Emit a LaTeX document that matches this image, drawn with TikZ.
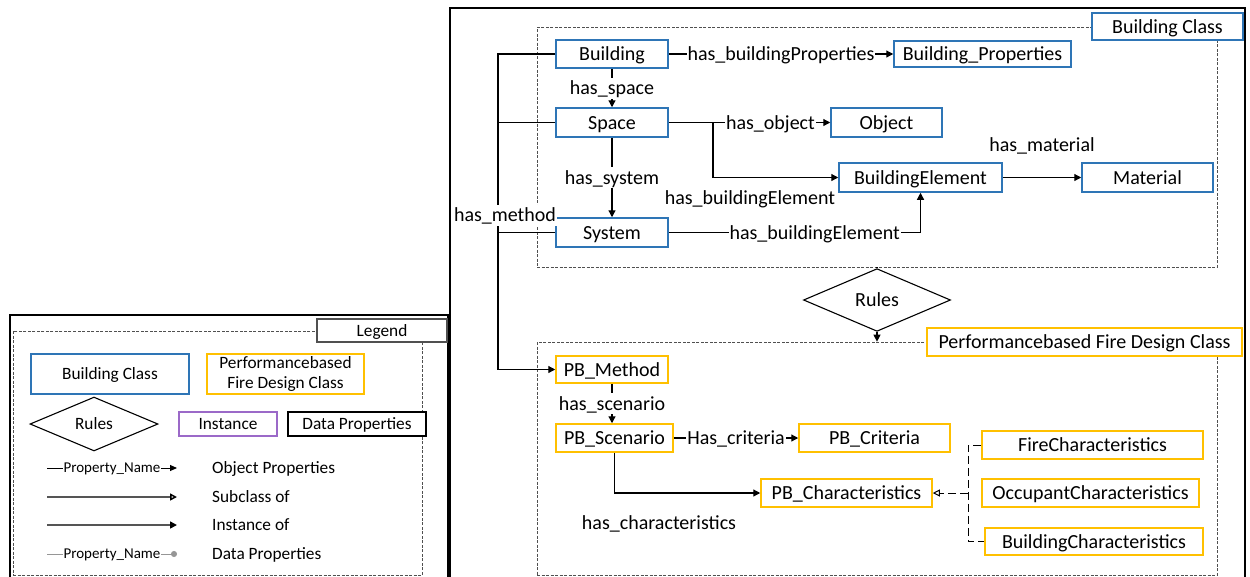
\documentclass[tikz,border=0pt]{standalone}
\usepackage{fontspec}
\setmainfont{Carlito}
\usetikzlibrary{arrows.meta,shapes.geometric}
\definecolor{bldblue}{RGB}{46,117,182}
\definecolor{pbgold}{RGB}{255,192,0}
\definecolor{instpurple}{RGB}{155,105,200}
\definecolor{areagray}{RGB}{80,80,80}
\definecolor{legline}{RGB}{85,85,85}
\definecolor{dataline}{RGB}{150,150,150}
\newcommand\mainfs{\fontsize{20pt}{22pt}\selectfont}
\newcommand\legfs{\fontsize{17.3pt}{20pt}\selectfont}
\newcommand\propfs{\fontsize{15pt}{17pt}\selectfont}
\begin{document}
\begin{tikzpicture}[x=1pt,y=-1pt,
  mtext/.style={font=\mainfs, text height=16pt, text depth=3pt},
  ltext/.style={font=\legfs, text height=13.6pt, text depth=2.5pt},
  bcls/.style={mtext, draw=bldblue, line width=1.5pt, fill=white, inner sep=0pt, minimum height=28pt},
  pcls/.style={mtext, draw=pbgold, line width=1.5pt, fill=white, inner sep=0pt, minimum height=28pt},
  lbl/.style={mtext, fill=white, inner sep=1pt},
  plain/.style={mtext, inner sep=1pt},
  conn/.style={line width=1.2pt},
  rel/.style={line width=1.2pt, -{Triangle[length=7pt,width=7pt]}},
  subl/.style={line width=1pt, dash pattern=on 8pt off 4pt},
  area/.style={draw=areagray, line width=0.7pt, dash pattern=on 3pt off 1.5pt, inner sep=0pt},
  frame/.style={draw=black, line width=2pt},
  rulebox/.style={diamond, draw=black, line width=1.1pt, fill=white, inner sep=0pt, mtext},
  legbox/.style={ltext, line width=1.2pt, fill=white, inner sep=0pt},
  legtext/.style={ltext, anchor=west, inner sep=0pt},
  propname/.style={fill=white, inner sep=1pt, font=\propfs, text height=11.5pt, text depth=2pt}
]
\useasboundingbox (0,0) rectangle (1250,576);

% ---------------- outer frames ----------------
\draw[frame] (450,8) rectangle (1245,600);
\draw[frame] (10,315) rectangle (448,600);

% ---------------- grouping areas ----------------
\node[area, minimum width=680pt, minimum height=240pt] (BArea) at (877,147) {};
\node[area, minimum width=680pt, minimum height=233pt] (PArea) at (877,458.5) {};
\node[area, minimum width=409pt, minimum height=244pt] (LArea) at (217.5,453) {};

\node[bcls, minimum width=151pt, minimum height=27pt] (BLabel) at (1167.5,26.5) {Building Class};
\node[pcls, minimum width=315pt] (PLabel) at (1084.5,342) {Performancebased Fire Design Class};
\node[legbox, draw=areagray, minimum width=130pt, minimum height=23pt] (LLabel) at (382,330.5) {Legend};

% ---------------- building classes ----------------
\node[bcls, minimum width=112pt] (Building) at (612,54) {Building};
\node[bcls, minimum width=177pt, minimum height=26pt] (BProps) at (982.5,54) {Building\_Properties};
\node[bcls, minimum width=112pt, minimum height=29pt] (Space) at (612,122.5) {Space};
\node[bcls, minimum width=111pt, minimum height=29pt] (Object) at (886.5,122.5) {Object};
\node[bcls, minimum width=163pt, minimum height=29pt] (BElem) at (920.5,177.5) {BuildingElement};
\node[bcls, minimum width=131pt, minimum height=29pt] (Material) at (1147.5,177.5) {Material};
\node[bcls, minimum width=112pt, minimum height=29pt] (System) at (612,232.5) {System};

% ---------------- rules ----------------
\node[rulebox, minimum width=147pt, minimum height=42pt] (Rules) at (877,300) {Rules};

% ---------------- performance-based classes ----------------
\node[pcls, minimum width=112pt, minimum height=27pt] (PBMethod) at (612,369.5) {PB\_Method};
\node[pcls, minimum width=117pt] (PBScen) at (614.5,438) {PB\_Scenario};
\node[pcls, minimum width=151pt] (PBCrit) at (874.5,438) {PB\_Criteria};
\node[pcls, minimum width=171pt] (PBChar) at (846.5,493) {PB\_Characteristics};
\node[pcls, minimum width=221pt] (FireC) at (1092.5,445) {FireCharacteristics};
\node[pcls, minimum width=217pt] (OccC) at (1090.5,493) {OccupantCharacteristics};
\node[pcls, minimum width=218pt, minimum height=27pt] (BldC) at (1094,541.5) {BuildingCharacteristics};

% ---------------- building relations ----------------
\draw[rel] (Building.east) -- node[lbl]{has\_buildingProperties} (BProps.west);
\draw[rel] (Building.south) -- node[lbl]{has\_space} (Space.north);
\draw[rel] (Space.east) -- node[lbl, pos=0.63]{has\_object} (Object.west);
\coordinate (sbr) at (713,122.5);
\draw[rel] (sbr) |- (BElem.west);
\node[plain] (hbe1) at (750,198) {has\_buildingElement};
\draw[rel] (Space.south) -- node[lbl]{has\_system} (System.north);
\draw[rel] (System.east) -| node[lbl, pos=0.29]{has\_buildingElement} (BElem.south);
\draw[rel] (BElem.east) -- node[plain, midway, yshift=33pt]{has\_material} (Material.west);

% has_method trunk
\coordinate (trunk) at (498,54);
\draw[rel] (Building.west) -- (trunk) |- (PBMethod.west);
\draw[conn] (Space.west) -- (Space.west -| trunk);
\draw[conn] (System.west) -- (System.west -| trunk);
\node[lbl] (hm) at (505,215) {has\_method};

% rules between the two areas
\draw[conn] (BArea.south) -- (Rules.north);
\draw[rel] (Rules.south) -- (PArea.north);

% ---------------- performance-based relations ----------------
\draw[rel] (PBMethod.south) -- node[lbl]{has\_scenario} (PBMethod.south |- PBScen.north);
\draw[rel] (PBScen.east) -- node[lbl]{Has\_criteria} (PBCrit.west);
\draw[rel] (PBScen.south) |- (PBChar.west);
\node[plain] (hch) at (659,523) {has\_characteristics};

% subclass links
\coordinate (bus) at (968,493);
\draw[subl] (FireC.west) -- (FireC.west -| bus) -- (BldC.west -| bus) -- (BldC.west);
\draw[subl, -{Triangle[open,length=7pt,width=7pt]}] (bus) -- (PBChar.east);

% ---------------- legend ----------------
\node[legbox, draw=bldblue, minimum width=158pt, minimum height=40pt] (lgB) at (110,374) {Building Class};
\node[legbox, draw=pbgold, minimum width=157pt, minimum height=40pt, align=center, text height=, text depth=] (lgP) at (285.5,374) {Performancebased\\Fire Design Class};
\node[rulebox, ltext, minimum width=128pt, minimum height=34pt] (lgR) at (94,424) {Rules};
\node[legbox, draw=instpurple, minimum width=98pt, minimum height=24pt] (lgI) at (228,424) {Instance};
\node[legbox, draw=black, minimum width=138pt, minimum height=24pt] (lgD) at (357,424) {Data Properties};

\coordinate (o1) at (47,468);  \coordinate (o2) at (177,468);
\coordinate (s1) at (47,497);  \coordinate (s2) at (177,497);
\coordinate (i1) at (47,525);  \coordinate (i2) at (177,525);
\coordinate (d1) at (47,554);  \coordinate (d2) at (177,554);
\draw[line width=1pt, -{Triangle[length=7pt,width=6pt]}] (o1) -- node[propname]{Property\_Name} (o2);
\draw[line width=1.5pt, draw=legline, -{Triangle[open,length=7pt,width=7pt,color=black]}] (s1) -- (s2);
\draw[line width=1.5pt, draw=legline, -{Triangle[length=7pt,width=7pt,color=black]}] (i1) -- (i2);
\draw[line width=1pt, draw=dataline, -{Circle[length=6pt]}] (d1) -- node[propname]{Property\_Name} (d2);
\node[legtext] (tO) at (212,468) {Object Properties};
\node[legtext] (tS) at (212,497) {Subclass of};
\node[legtext] (tI) at (212,525) {Instance of};
\node[legtext] (tD) at (212,554) {Data Properties};
\end{tikzpicture}
\end{document}
